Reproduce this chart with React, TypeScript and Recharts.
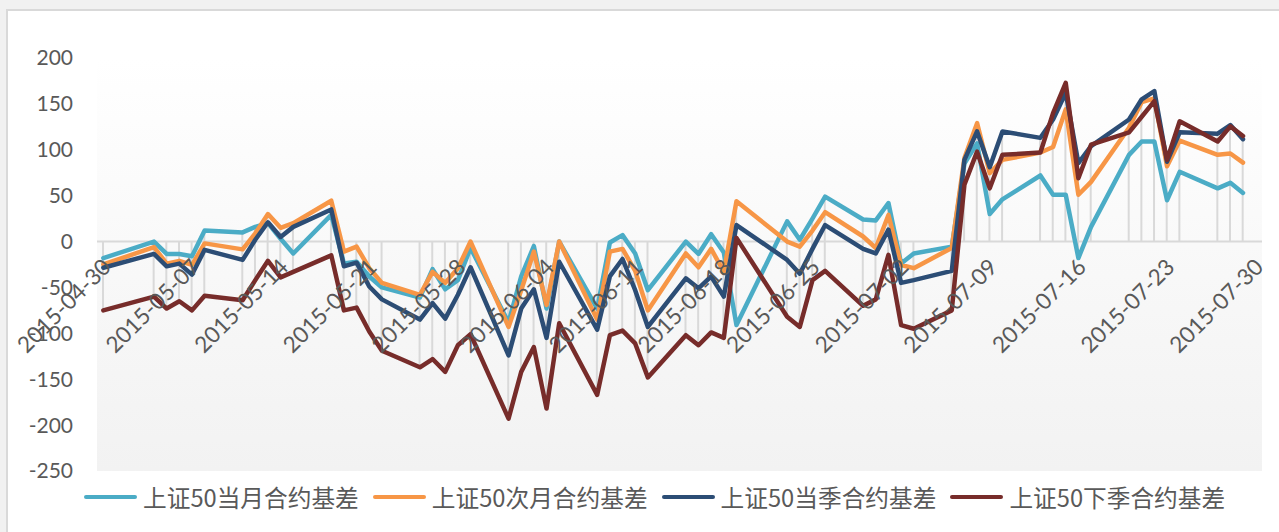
import React from "react";
import {
  Bar,
  CartesianGrid,
  ComposedChart,
  Legend,
  Line,
  ReferenceLine,
  XAxis,
  YAxis,
} from "recharts";

const dates = [
  "2015-04-30",
  "2015-05-04", "2015-05-05", "2015-05-06", "2015-05-07", "2015-05-08",
  "2015-05-11", "2015-05-12", "2015-05-13", "2015-05-14", "2015-05-15",
  "2015-05-18", "2015-05-19", "2015-05-20", "2015-05-21", "2015-05-22",
  "2015-05-25", "2015-05-26", "2015-05-27", "2015-05-28", "2015-05-29",
  "2015-06-01", "2015-06-02", "2015-06-03", "2015-06-04", "2015-06-05",
  "2015-06-08", "2015-06-09", "2015-06-10", "2015-06-11", "2015-06-12",
  "2015-06-15", "2015-06-16", "2015-06-17", "2015-06-18", "2015-06-19",
  "2015-06-23", "2015-06-24", "2015-06-25", "2015-06-26",
  "2015-06-29", "2015-06-30", "2015-07-01", "2015-07-02", "2015-07-03",
  "2015-07-06", "2015-07-07", "2015-07-08", "2015-07-09", "2015-07-10",
  "2015-07-13", "2015-07-14", "2015-07-15", "2015-07-16", "2015-07-17",
  "2015-07-20", "2015-07-21", "2015-07-22", "2015-07-23", "2015-07-24",
  "2015-07-27", "2015-07-28", "2015-07-29",
];

// 上证50当月合约基差
const currentMonth = [
  -18, 0, -13.5, -13.5, -16, 12, 10, 16, 20, 3, -13, 29, -24, -22, -38, -50,
  -61, -30, -52, -42, -7, -88, -38, -5, -73, 0, -73, -1, 7, -13, -53, 0, -13.5,
  8, -12, -91, 22, 2, 25, 49, 24, 23, 42, -24, -13, -5.5, 85, 107, 30, 46, 72,
  51, 51, -18, 16, 94.5, 109, 109, 45, 76, 58, 64, 53,
];

// 上证50次月合约基差
const nextMonth = [
  -25, -6, -24, -21, -25.5, -2, -8.5, 9, 30, 15, 20, 44.5, -11, -5.5, -29, -45,
  -58, -33, -45, -29, 0, -93, -53, -11, -69, 0, -85, -11, -8, -32, -75, -13,
  -28, -8, -33, 44, 0, -5.5, 12, 32, 5.5, -7, 29, -25.5, -29, -7, 91, 129, 74.5,
  89, 97, 103, 144, 51, 65, 124, 152, 156, 82, 110, 94.5, 96, 86,
];

// 上证50当季合约基差
const currentQuarter = [
  -28.5, -13.5, -27, -24, -36, -9, -20, 2, 21, 5, 16, 35, -27, -23, -49, -63,
  -85, -67, -84, -58, -28, -124, -73, -52, -105, -22, -96, -38, -19, -53, -93,
  -40, -51, -38, -60, 18, -20, -35, -8, 18, -8, -13, 13, -45, -42, -32, 89, 120,
  81, 120, 113, 133, 162, 85.5, 104, 133, 155, 164, 87, 119, 117.5, 127, 111.5,
];

// 上证50下季合约基差
const nextQuarter = [
  -75, -60, -73, -65, -75, -59, -64, -42, -21, -39, -33, -15, -75, -72, -98,
  -119, -137, -128, -142, -113, -101, -193, -142, -115, -182, -89, -167, -102,
  -97, -111, -148, -102, -113, -99, -105, 4, -82, -93, -42, -32, -70, -63,
  -14.5, -91, -95, -75, 62, 98, 58, 94.5, 97, 140, 173, 69, 105.5, 119, 136,
  153, 89, 131, 109, 125.5, 115,
];

const tickLabels = [
  "2015-04-30", "2015-05-07", "2015-05-14", "2015-05-21", "2015-05-28",
  "2015-06-04", "2015-06-11", "2015-06-18", "2015-06-25", "2015-07-02",
  "2015-07-09", "2015-07-16", "2015-07-23", "2015-07-30",
];

const yTicks = [-250, -200, -150, -100, -50, 0, 50, 100, 150, 200];

const series = [
  { key: "m1", name: "上证50当月合约基差", color: "#4bacc6", values: currentMonth },
  { key: "m2", name: "上证50次月合约基差", color: "#f79646", values: nextMonth },
  { key: "q1", name: "上证50当季合约基差", color: "#2c4d75", values: currentQuarter },
  { key: "q2", name: "上证50下季合约基差", color: "#772c2a", values: nextQuarter },
];

const DAY = 24 * 3600 * 1000;
const dayOf = (s: string) => {
  const [y, m, d] = s.split("-").map(Number);
  return Math.round((Date.UTC(y, m - 1, d) - Date.UTC(2015, 3, 30)) / DAY);
};

const data = dates.map((date, i) => {
  const row: any = { date, d: dayOf(date) };
  const vals: number[] = [];
  series.forEach((s) => {
    row[s.key] = s.values[i];
    vals.push(s.values[i]);
  });
  // drop lines: from the axis (0) to each point
  row.drop = [Math.min(0, ...vals), Math.max(0, ...vals)];
  return row;
});

const W = 1279;
const H = 532;
const M = { top: 58, right: 17, bottom: 60, left: 7 };
const X_AXIS_H = 1;
const Y_MIN = -250;
const Y_MAX = 200;
const PLOT_H = H - M.top - M.bottom - X_AXIS_H;
const ZERO_Y = M.top + (PLOT_H * Y_MAX) / (Y_MAX - Y_MIN);

const FONT = "Lato, 'Noto Sans', sans-serif";

const DateTick = (props: any) => {
  const { x, payload } = props;
  const label = tickLabels.find((t) => dayOf(t) === payload.value) || "";
  const ax = x + 3;
  const ay = ZERO_Y + 21;
  return (
    <text
      x={ax}
      y={ay}
      textAnchor="end"
      dominantBaseline="central"
      fill="#595959"
      fontSize={22.5}
      fontFamily={FONT}
      transform={`rotate(-45 ${ax} ${ay})`}
    >
      {label}
    </text>
  );
};

const LegendContent = () => (
  <div style={{ display: "flex", alignItems: "center" }}>
    {series.map((s) => (
      <div
        key={s.key}
        style={{ display: "flex", alignItems: "center", marginRight: 14 }}
      >
        <div
          style={{
            width: 53,
            height: 4.5,
            borderRadius: 2,
            background: s.color,
            marginRight: 6,
          }}
        />
        <span
          style={{
            fontFamily: "'Noto Sans CJK SC', sans-serif",
            fontSize: 23.7,
            color: "#595959",
            lineHeight: "30px",
            whiteSpace: "nowrap",
          }}
        >
          {s.name}
        </span>
      </div>
    ))}
  </div>
);

export default function App() {
  return (
    <div
      style={{
        position: "absolute",
        left: 0,
        top: 0,
        width: W,
        height: H,
        overflow: "hidden",
        background: "#f1f1f1",
      }}
    >
      <div
        style={{
          position: "absolute",
          left: 6,
          top: 9,
          width: 1300,
          height: 560,
          boxSizing: "border-box",
          background: "#ffffff",
          border: "2px solid #d9d9d9",
        }}
      />
      <div style={{ position: "absolute", left: 0, top: 0 }}>
        <ComposedChart width={W} height={H} data={data} margin={M}>
          <defs>
            <linearGradient id="plotBg" x1="0" y1="0" x2="0" y2="1">
              <stop offset="0%" stopColor="#ffffff" />
              <stop offset="45%" stopColor="#f9f9f9" />
              <stop offset="100%" stopColor="#f2f2f2" />
            </linearGradient>
          </defs>
          <CartesianGrid
            horizontal={false}
            vertical={false}
            fill="url(#plotBg)"
            stroke="none"
          />
          <XAxis
            dataKey="d"
            type="number"
            domain={[-0.5, 91.5]}
            ticks={tickLabels.map(dayOf)}
            interval={0}
            height={X_AXIS_H}
            axisLine={false}
            tickLine={false}
            tick={<DateTick />}
          />
          <YAxis
            type="number"
            domain={[Y_MIN, Y_MAX]}
            ticks={yTicks}
            interval={0}
            width={90}
            axisLine={false}
            tickLine={false}
            tickSize={0}
            tickMargin={24}
            tick={{ fill: "#595959", fontSize: 21, fontFamily: FONT }}
          />
          <Bar
            dataKey="drop"
            barSize={2}
            fill="#d9d9d9"
            isAnimationActive={false}
            legendType="none"
          />
          <ReferenceLine y={0} stroke="#d9d9d9" strokeWidth={2} />
          {series.map((s) => (
            <Line
              key={s.key}
              type="linear"
              dataKey={s.key}
              name={s.name}
              stroke={s.color}
              strokeWidth={4.5}
              strokeLinejoin="round"
              strokeLinecap="round"
              dot={false}
              activeDot={false}
              isAnimationActive={false}
            />
          ))}
          <Legend
            layout="horizontal"
            verticalAlign="middle"
            align="center"
            content={<LegendContent />}
            wrapperStyle={{
              position: "absolute",
              left: 84,
              top: 482,
              width: "auto",
            }}
          />
        </ComposedChart>
      </div>
    </div>
  );
}
